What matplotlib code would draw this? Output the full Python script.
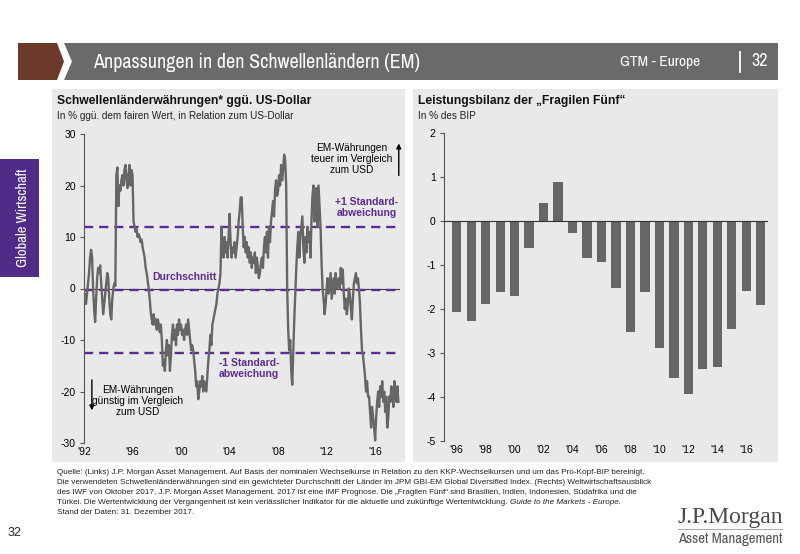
import numpy as np
import matplotlib
matplotlib.use("Agg")
import matplotlib.pyplot as plt
from matplotlib import font_manager
from matplotlib.patches import Polygon, Rectangle

# --- data -------------------------------------------------------------
# EM currencies vs USD, % vs fair value, monthly 1992-2017
em_fx = [
    0, -2, -3, -1, 1, 3, 6, 7.5, 6, 0, -4, -6.5,            # 1992
    -2, 2, 4, 3, 4.5, 1, -2, -5, -3, -1, 1, 3,              # 1993
    2, -2, -5, -6, -2, 0, 1, 0.5, 22, 23.5, 16, 20,         # 1994
    19, 21, 22, 20, 23, 24, 21, 19.5, 22, 24, 20, 23,       # 1995
    22, 13, 12, 11, 11.5, 10, 10.5, 10, 9, 9.5, 8, 7,       # 1996
    6, 4, 3, 1.5, 0, -2, -4.5, -6, -7, -5, -7, -6,          # 1997
    -8, -6, -7, -8.5, -7, -10, -15, -14, -16, -12, -10, -13,  # 1998
    -11, -16, -13, -9, -7, -10, -8, -11, -7, -9, -6, -8,    # 1999
    -7, -9, -8, -10, -8, -7, -9, -6, -8, -10, -12, -11,     # 2000
    -12, -14, -16, -19, -18, -21.5, -20, -18, -19, -17, -20, -18,  # 2001
    -19, -20, -17, -14, -12, -9, -11, -7, -6, -5, -4, -3,   # 2002
    -1, 0, 1, 3, 12, 8, 6, 10, 7, 9, 6, 10,                 # 2003
    14.5, 9, 6, 8, 7, 9, 6, 8, 10, 13, 15, 17.7,            # 2004
    17.7, 12, 8, 10, 7, 9, 6, 8, 5, 7, 4, 6,                # 2005
    5, 7, 3, 6, 4, 2, 3, 5, 6, 4, 8, 10,                    # 2006
    7, 11, 6, 12, 9, 13, 15, 17, 14, 19, 21, 18,            # 2007
    19, 22, 20, 24, 21, 23, 26, 25, 20, 0, -8, -12,         # 2008
    -10, -16, -18.7, -12, -6, -1, 4, 8, 11, 6, 10, 12,      # 2009
    14, 8, 5, 10, 7, 12, 9, 11, 6, 13, 18, 20,              # 2010
    13, 17, 19.5, 12, 20, 16, 12, 5, 0, -2, -5, -3,         # 2011
    0, 2, -1, 1, 3, -2, 0, 2, -1, 3, 0, 1,                  # 2012
    2, 0, 4, 1, 3.7, -1, -4, -2, -5, -3, 0, -1,             # 2013
    -4, -6, -2, 1, 2, 3, 1, 2, 0, -3, -8, -12,              # 2014
    -13, -15, -17, -20, -18, -21, -21, -24, -27, -23, -25, -27,  # 2015
    -29.5, -25, -22, -20, -23, -19, -21, -18, -22, -20, -24, -21,  # 2016
    -27, -25, -21, -22, -19, -20, -23, -18, -21, -22, -19, -22,    # 2017
]
em_start_year = 1992
em_mean = -0.3
em_plus_sd = 11.9
em_minus_sd = -12.6
left_xticks = [1992, 1996, 2000, 2004, 2008, 2012, 2016]
left_xlabels = ["'92", "'96", "'00", "'04", "'08", "'12", "'16"]
left_yticks = [-30, -20, -10, 0, 10, 20, 30]

# current account of the "Fragile Five", % of GDP
cab_years = list(range(1996, 2018))
cab_values = [-2.07, -2.28, -1.89, -1.63, -1.72, -0.61, 0.41, 0.88, -0.28,
              -0.85, -0.93, -1.52, -2.52, -1.62, -2.90, -3.58, -3.93, -3.38,
              -3.32, -2.45, -1.59, -1.92]
right_yticks = [-5, -4, -3, -2, -1, 0, 1, 2]

footer_lines = [
    "Quelle: (Links) J.P. Morgan Asset Management. Auf Basis der nominalen Wechselkurse in Relation zu den KKP-Wechselkursen und um das Pro-Kopf-BIP bereinigt.",
    "Die verwendeten Schwellenländerwährungen sind ein gewichteter Durchschnitt der Länder im JPM GBI-EM Global Diversified Index. (Rechts) Weltwirtschaftsausblick",
    "des IWF von Oktober 2017, J.P. Morgan Asset Management. 2017 ist eine IMF Prognose. Die „Fragilen Fünf“ sind Brasilien, Indien, Indonesien, Südafrika und die",
    "Türkei. Die Wertentwicklung der Vergangenheit ist kein verlässlicher Indikator für die aktuelle und zukünftige Wertentwicklung. ",
    "Stand der Daten: 31. Dezember 2017.",
]
footer_italic = "Guide to the Markets - Europe."

# --- style ------------------------------------------------------------
names = {f.name for f in font_manager.fontManager.ttflist}
cond = [n for n in sorted(names) if "Narrow" in n or "Condensed" in n]
narrow = cond[0] if cond else ("Roboto" if "Roboto" in names else "Liberation Sans")
plt.rcParams["font.family"] = ["Liberation Sans", "DejaVu Sans"]
plt.rcParams["axes.unicode_minus"] = False

W, H = 800, 554
grey_line = "#666666"
purple = "#5c2d91"
panel_bg = "#e9e9e9"


def fx(x):
    return x / W


def fy(y):
    return 1 - y / H


fig = plt.figure(figsize=(8, 5.54), dpi=100)
renderer = fig.canvas.get_renderer()


def fit(txt, target, vertical=False):
    # shrink/grow the font so the text spans target pixels
    bb = txt.get_window_extent(renderer=renderer)
    size = bb.height if vertical else bb.width
    txt.set_fontsize(txt.get_fontsize() * target / size)
    return txt


# background layer in pixel coordinates
bg = fig.add_axes([0, 0, 1, 1])
bg.set_xlim(0, W)
bg.set_ylim(H, 0)
bg.axis("off")

bg.add_patch(Polygon([(18, 43), (57, 43), (64, 61.5), (57, 80), (18, 80)],
                     closed=True, color="#6b3a2a", lw=0))
bg.add_patch(Polygon([(64, 43), (778, 43), (778, 80), (64, 80), (72, 61.5)],
                     closed=True, color="#6a6a6a", lw=0))
fit(bg.text(93, 62, "Anpassungen in den Schwellenländern (EM)", color="white",
            fontsize=14, family=narrow, va="center", ha="left"), 325)
fit(bg.text(700, 62, "GTM - Europe", color="white", fontsize=11.5,
            family=narrow, va="center", ha="right"), 80)
bg.plot([740, 740], [52, 72], color="white", lw=1.3)
bg.text(768, 61, "32", color="white", fontsize=13, family=narrow,
        va="center", ha="right")

bg.add_patch(Rectangle((52, 89), 353, 373, color=panel_bg, lw=0))
bg.add_patch(Rectangle((413, 89), 365, 373, color=panel_bg, lw=0))

bg.add_patch(Rectangle((0, 159), 39, 118, color="#522a87", lw=0))
fit(bg.text(23, 218, "Globale Wirtschaft", color="white", fontsize=9.5,
            family=narrow, rotation=90, va="center", ha="center"), 98,
    vertical=True)

bg.text(57, 101, "Schwellenländerwährungen* ggü. US-Dollar", fontsize=8.7,
        fontweight="bold", va="center", color="#111111")
bg.text(57, 116, "In % ggü. dem fairen Wert, in Relation zum US-Dollar",
        fontsize=7.2, va="center", color="#222222")
bg.text(418, 101, "Leistungsbilanz der „Fragilen Fünf“", fontsize=8.7,
        fontweight="bold", va="center", color="#111111")
bg.text(418, 116, "In % des BIP", fontsize=7.2, va="center", color="#222222")

# --- left chart -------------------------------------------------------
ax1 = fig.add_axes([fx(84), fy(443), fx(400) - fx(84), fy(134) - fy(443)])
ax1.patch.set_alpha(0)
t = em_start_year + np.arange(len(em_fx)) / 12
ax1.axhline(0, color="#333333", lw=0.8, zorder=1)
for lvl in (em_plus_sd, em_mean, em_minus_sd):
    ax1.axhline(lvl, color=purple, lw=1.7, ls=(0, (3.9, 2.5)), zorder=2)
ax1.plot(t, em_fx, color=grey_line, lw=1.7, zorder=3)
ax1.set_xlim(1992, 2018.05)
ax1.set_ylim(-30, 30)
ax1.set_yticks(left_yticks)
ax1.set_xticks(left_xticks)
ax1.set_xticklabels(left_xlabels)
for s in ("top", "right", "bottom"):
    ax1.spines[s].set_visible(False)
ax1.spines["left"].set_color("#555555")
ax1.tick_params(axis="y", length=3, color="#555555", labelsize=7.5, pad=3)
ax1.tick_params(axis="x", length=0, labelsize=7.5, pad=3)

ax1.text(2014.1, 25.1, "EM-Währungen\nteuer im Vergleich\nzum USD", fontsize=7.3,
         ha="center", va="center", linespacing=1.15)
ax1.annotate("", xy=(2017.95, 28.7), xytext=(2017.95, 21.4),
             arrowprops=dict(arrowstyle="-|>", color="black", lw=1,
                             mutation_scale=7))
ax1.text(2015.3, 15.8, "+1 Standard-\nabweichung", fontsize=7.5, color=purple,
         fontweight="bold", ha="center", va="center", linespacing=1.1)
ax1.text(2000.3, 2.3, "Durchschnitt", fontsize=7.5, color=purple,
         fontweight="bold", ha="center", va="center")
ax1.text(2005.6, -15.6, "-1 Standard-\nabweichung", fontsize=7.5, color=purple,
         fontweight="bold", ha="center", va="center", linespacing=1.1)
ax1.text(1996.4, -21.8, "EM-Währungen\ngünstig im Vergleich\nzum USD",
         fontsize=7.3, ha="center", va="center", linespacing=1.15)
ax1.annotate("", xy=(1992.65, -24.2), xytext=(1992.65, -17.2),
             arrowprops=dict(arrowstyle="-|>", color="black", lw=1,
                             mutation_scale=7))

# --- right chart ------------------------------------------------------
ax2 = fig.add_axes([fx(444), fy(440.7), fx(768) - fx(444), fy(132.7) - fy(440.7)])
ax2.patch.set_alpha(0)
pos = np.arange(len(cab_years))
ax2.bar(pos, cab_values, width=0.64, color=grey_line, zorder=2)
ax2.axhline(0, color="#333333", lw=0.8, zorder=3)
ax2.set_xlim(-0.88, len(cab_years) - 0.5)
ax2.set_ylim(-5, 2)
ax2.set_yticks(right_yticks)
ax2.set_xticks(pos[::2])
ax2.set_xticklabels(["'" + str(y)[2:] for y in cab_years[::2]])
for s in ("top", "right", "bottom"):
    ax2.spines[s].set_visible(False)
ax2.spines["left"].set_color("#555555")
ax2.tick_params(axis="y", length=3, color="#555555", labelsize=7.5, pad=3)
ax2.tick_params(axis="x", length=0, labelsize=7.5, pad=3)

# --- footer -----------------------------------------------------------
first = bg.text(57, 472, footer_lines[0], fontsize=6, va="center",
                color="#222222")
fit(first, 596)
fsize = first.get_fontsize()
for i, line in enumerate(footer_lines[1:], start=1):
    y = 472 + i * 10.2
    txt = bg.text(57, y, line, fontsize=fsize, va="center", color="#222222")
    if i == 3:
        bb = txt.get_window_extent(renderer=renderer)
        bg.text(bb.x1 / fig.dpi * 100, y, footer_italic, fontsize=fsize,
                style="italic", va="center", color="#222222")

bg.text(14, 533, "32", fontsize=9, va="center", ha="center", color="#222222")
fit(bg.text(730, 518, "J.P.Morgan", fontsize=15.5, family="Liberation Serif",
            va="center", ha="center", color="#4a4a4a"), 105)
bg.plot([678, 782], [529, 529], color="#999999", lw=0.6)
fit(bg.text(730, 539, "Asset Management", fontsize=9.5, family=narrow,
            va="center", ha="center", color="#555555"), 104)

fig.savefig("out.png", dpi=100)
